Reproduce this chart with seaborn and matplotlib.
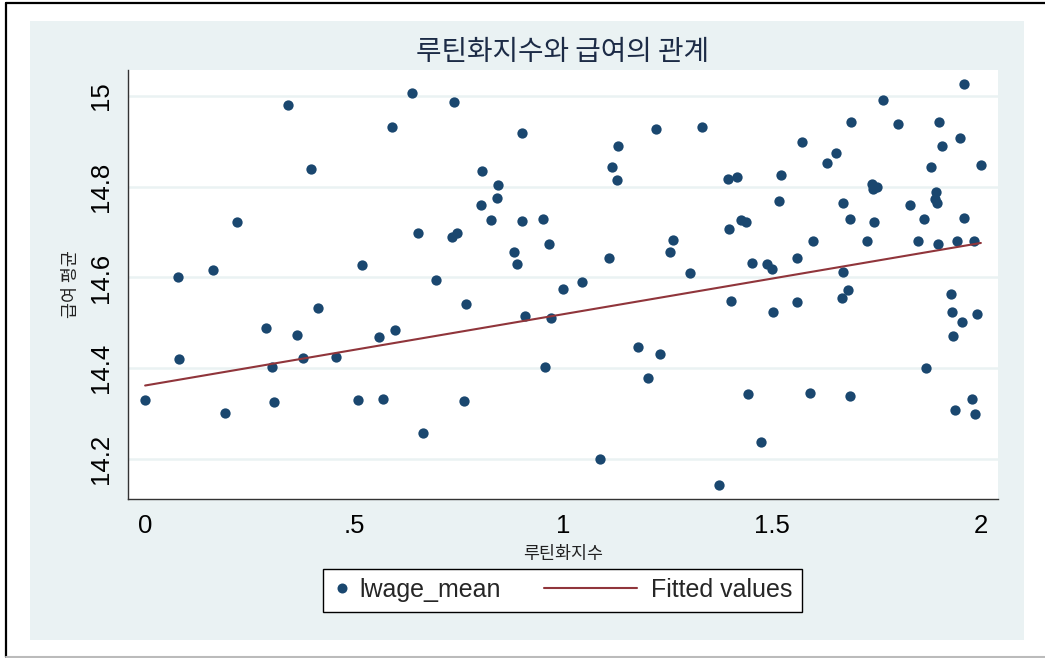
import numpy as np
import pandas as pd
import seaborn as sns
import matplotlib
matplotlib.use("Agg")
import matplotlib.pyplot as plt
from matplotlib.lines import Line2D
from matplotlib.patches import Rectangle
from matplotlib.legend_handler import HandlerLine2D

# routinization index per occupation group and its mean log wage
routine_index = [
    0.000, 0.079, 0.081, 0.163, 0.191, 0.220, 0.289, 0.304, 0.309, 0.342,
    0.364, 0.378, 0.397, 0.414, 0.457, 0.510, 0.519, 0.560, 0.569, 0.591,
    0.598, 0.639, 0.653, 0.665, 0.696, 0.734, 0.739, 0.746, 0.763, 0.768,
    0.804, 0.806, 0.828, 0.842, 0.844, 0.883, 0.890, 0.902, 0.902, 0.909,
    0.952, 0.957, 0.967, 0.971, 1.000, 1.045, 1.089, 1.110, 1.117, 1.129,
    1.132, 1.179, 1.203, 1.222, 1.232, 1.256, 1.263, 1.304, 1.333, 1.373,
    1.395, 1.397, 1.402, 1.416, 1.426, 1.438, 1.443, 1.452, 1.474, 1.488,
    1.500, 1.502, 1.517, 1.522, 1.560, 1.560, 1.572, 1.591, 1.598, 1.632,
    1.653, 1.667, 1.670, 1.670, 1.682, 1.687, 1.687, 1.689, 1.727, 1.739,
    1.742, 1.744, 1.751, 1.766, 1.801, 1.830, 1.849, 1.864, 1.868, 1.880,
    1.890, 1.892, 1.895, 1.900, 1.897, 1.907, 1.928, 1.931, 1.933, 1.938,
    1.943, 1.950, 1.955, 1.959, 1.959, 1.978, 1.983, 1.986, 1.990, 2.000,
]
lwage_mean = [
    14.330, 14.601, 14.420, 14.616, 14.301, 14.722, 14.489, 14.403, 14.326, 14.980,
    14.473, 14.423, 14.839, 14.533, 14.425, 14.330, 14.628, 14.469, 14.332, 14.932,
    14.484, 15.007, 14.698, 14.257, 14.594, 14.689, 14.987, 14.698, 14.328, 14.542,
    14.760, 14.835, 14.727, 14.775, 14.804, 14.656, 14.630, 14.918, 14.725, 14.515,
    14.729, 14.403, 14.674, 14.511, 14.575, 14.590, 14.200, 14.642, 14.843, 14.815,
    14.890, 14.447, 14.379, 14.928, 14.431, 14.656, 14.683, 14.610, 14.932, 14.143,
    14.817, 14.707, 14.548, 14.821, 14.727, 14.722, 14.343, 14.632, 14.237, 14.630,
    14.619, 14.524, 14.769, 14.826, 14.643, 14.546, 14.899, 14.345, 14.681, 14.852,
    14.874, 14.555, 14.765, 14.612, 14.572, 14.729, 14.339, 14.943, 14.681, 14.806,
    14.795, 14.722, 14.800, 14.991, 14.938, 14.760, 14.681, 14.729, 14.401, 14.843,
    14.773, 14.788, 14.765, 14.943, 14.674, 14.890, 14.564, 14.524, 14.471, 14.308,
    14.681, 14.907, 14.502, 14.731, 15.026, 14.332, 14.681, 14.299, 14.520, 14.848,
]

# linear fit (estimated on the individual-level wages) at both ends of the index
fit_routine = [0.0, 2.0]
fit_lwage = [14.362, 14.676]

x_ticks = [0, 0.5, 1, 1.5, 2]
x_tick_labels = ["0", ".5", "1", "1.5", "2"]
y_ticks = [14.2, 14.4, 14.6, 14.8, 15.0]
y_tick_labels = ["14.2", "14.4", "14.6", "14.8", "15"]

title_text = "루틴화지수와 급여의 관계"
x_label = "루틴화지수"
y_label = "급여 평균"
series_labels = ["lwage_mean", "Fitted values"]

df = pd.DataFrame({"routine": routine_index, "lwage": lwage_mean})
fit_df = pd.DataFrame({"routine": fit_routine, "lwage": fit_lwage})

NAVY = "#1A476F"
MAROON = "#90353B"
REGION = "#EAF2F3"
KOREAN = ["Noto Sans CJK KR", "DejaVu Sans"]

sns.set_style("white")
plt.rcParams["font.family"] = ["Liberation Sans", "Noto Sans CJK KR", "DejaVu Sans"]

W, H = 1045, 658
fig = plt.figure(figsize=(W / 100, H / 100), dpi=100)
fig.patch.set_facecolor("white")


def fx(px):
    return px / W


def fy(py):
    return 1 - py / H


# graph region shading
fig.add_artist(Rectangle((fx(30), fy(640)), fx(1024) - fx(30), fy(21) - fy(640),
                         transform=fig.transFigure, facecolor=REGION,
                         edgecolor="none", zorder=0))
# outer frame
fig.add_artist(Line2D([fx(6), 1], [fy(3), fy(3)], transform=fig.transFigure,
                      color="black", lw=1.6))
fig.add_artist(Line2D([fx(6), fx(6)], [fy(3), fy(657)], transform=fig.transFigure,
                      color="black", lw=1.6))
fig.add_artist(Line2D([fx(6), 1], [fy(656.5), fy(656.5)], transform=fig.transFigure,
                      color="#BBBBBB", lw=1.5))

ax = fig.add_axes([fx(128), fy(499), fx(998) - fx(128), fy(70) - fy(499)])
ax.set_facecolor("white")

sns.scatterplot(data=df, x="routine", y="lwage", ax=ax, color=NAVY, s=55,
                linewidth=0, zorder=3, legend=False)
sns.lineplot(data=fit_df, x="routine", y="lwage", ax=ax, color=MAROON, lw=1.5,
             zorder=4, legend=False)

ax.set_xlim(-0.041, 2.041)
ax.set_ylim(14.112, 15.057)
ax.set_xticks(x_ticks, x_tick_labels)
ax.set_yticks(y_ticks, y_tick_labels)
ax.grid(axis="y", color=REGION, lw=1.8, zorder=0)
ax.grid(axis="x", visible=False)

for side in ("top", "right"):
    ax.spines[side].set_visible(False)
for side in ("left", "bottom"):
    ax.spines[side].set_color("#333333")
    ax.spines[side].set_linewidth(1.0)

ax.tick_params(axis="both", direction="out", length=7, width=1.0,
               color="#333333", labelsize=18.5, labelcolor="black")
ax.tick_params(axis="x", pad=4)
ax.tick_params(axis="y", pad=4, labelrotation=90)
for lab in ax.get_yticklabels():
    lab.set_va("center")

ax.set_xlabel(x_label, fontsize=12.5, family=KOREAN, color="#222222", va="center")
ax.xaxis.set_label_coords(0.5, -0.128)
ax.set_ylabel(y_label, fontsize=12.5, family=KOREAN, color="#222222", va="center")
ax.yaxis.set_label_coords(-0.0655, 0.5)

fig.text(fx(563), fy(52), title_text, ha="center", va="center", fontsize=20,
         family=KOREAN, color="#1C2B46")


class ShiftedLineHandler(HandlerLine2D):
    """Line handle drawn between two offsets given in font-size units."""

    def __init__(self, start, stop, **kw):
        super().__init__(**kw)
        self.start, self.stop = start, stop

    def get_xdata(self, legend, xdescent, ydescent, width, height, fontsize):
        xdata = np.array([-xdescent + self.start * fontsize,
                          -xdescent + self.stop * fontsize])
        return xdata, xdata


dot_handle = Line2D([], [], marker="o", linestyle="none", color=NAVY,
                    markersize=7.2, markeredgewidth=0)
line_handle = Line2D([], [], color=MAROON, lw=1.5)

leg = ax.legend([dot_handle, line_handle], series_labels, ncol=2,
                loc="center", bbox_to_anchor=(fx(562.5), fy(590)),
                bbox_transform=fig.transFigure, fontsize=18, frameon=True,
                fancybox=False, framealpha=1, edgecolor="black",
                borderpad=0.38, handlelength=0.75, handletextpad=0.32,
                columnspacing=4.95, handler_map={
                    line_handle: ShiftedLineHandler(-3.2, 0.5)})
leg.get_frame().set_linewidth(1.0)

fig.savefig("out.png", dpi=100, facecolor="white")
